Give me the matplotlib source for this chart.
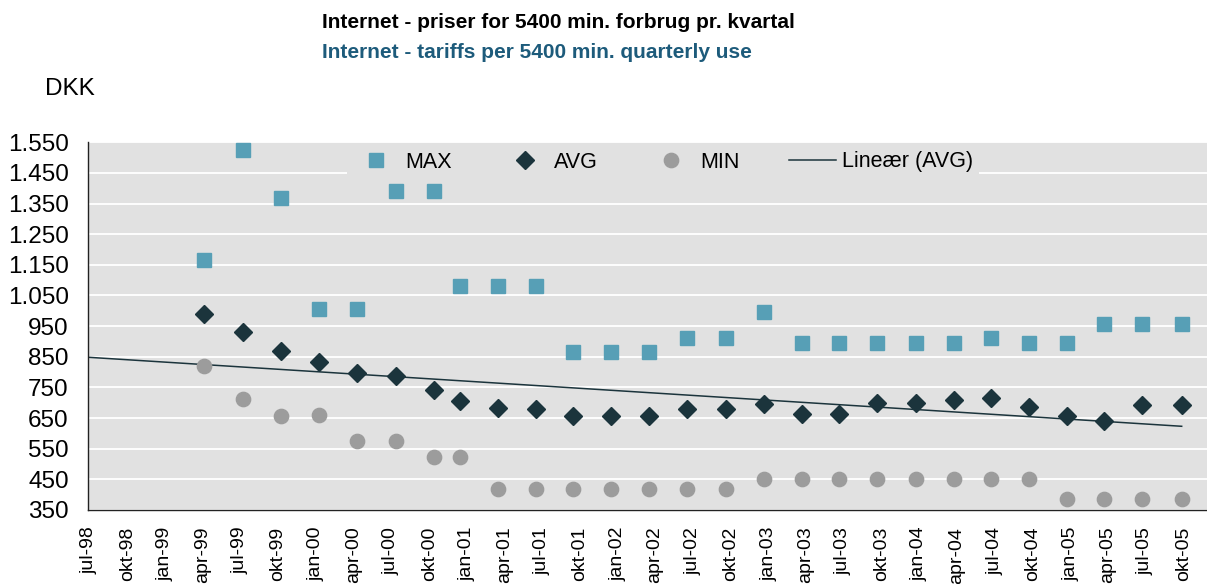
import matplotlib
matplotlib.use('Agg')
import matplotlib.pyplot as plt
import matplotlib.dates as mdates
from matplotlib.lines import Line2D
from matplotlib.ticker import FuncFormatter
import numpy as np
from datetime import datetime

plt.rcParams['font.family'] = ['Liberation Sans', 'DejaVu Sans']

# ---- data ----
tick_labels = ['jul-98', 'okt-98', 'jan-99', 'apr-99', 'jul-99', 'okt-99',
               'jan-00', 'apr-00', 'jul-00', 'okt-00', 'jan-01', 'apr-01',
               'jul-01', 'okt-01', 'jan-02', 'apr-02', 'jul-02', 'okt-02',
               'jan-03', 'apr-03', 'jul-03', 'okt-03', 'jan-04', 'apr-04',
               'jul-04', 'okt-04', 'jan-05', 'apr-05', 'jul-05', 'okt-05']
tick_dates = ['1998-07-01', '1998-10-01', '1999-01-01', '1999-04-01', '1999-07-01', '1999-10-01',
              '2000-01-01', '2000-04-01', '2000-07-01', '2000-10-01', '2001-01-01', '2001-04-01',
              '2001-07-01', '2001-10-01', '2002-01-01', '2002-04-01', '2002-07-01', '2002-10-01',
              '2003-01-01', '2003-04-01', '2003-07-01', '2003-10-01', '2004-01-01', '2004-04-01',
              '2004-07-01', '2004-10-01', '2005-01-01', '2005-04-01', '2005-07-01', '2005-10-01']

point_dates = ['1999-04-05', '1999-07-09', '1999-10-08', '2000-01-09', '2000-04-09',
               '2000-07-13', '2000-10-13', '2000-12-14', '2001-03-16', '2001-06-16',
               '2001-09-15', '2001-12-15', '2002-03-17', '2002-06-17', '2002-09-20',
               '2002-12-20', '2003-03-22', '2003-06-20', '2003-09-20', '2003-12-23',
               '2004-03-24', '2004-06-23', '2004-09-23', '2004-12-23', '2005-03-24',
               '2005-06-24', '2005-09-27']

max_vals = [1166, 1525, 1369, 1005, 1005, 1390, 1390, 1082, 1082, 1082,
            865, 865, 865, 910, 910, 995, 895, 895, 895, 895,
            895, 910, 895, 895, 957, 957, 957]
avg_vals = [990, 932, 870, 834, 798, 787, 742, 704, 682, 679,
            657, 657, 657, 679, 679, 695, 662, 662, 698, 698,
            709, 714, 687, 657, 641, 693, 693]
min_vals = [821, 711, 658, 660, 575, 575, 524, 524, 419, 419,
            419, 419, 419, 419, 419, 450, 450, 450, 450, 450,
            450, 450, 450, 385, 385, 385, 385]

series_names = ['MAX', 'AVG', 'MIN', 'Lineær (AVG)']
title_da = 'Internet - priser for 5400 min. forbrug pr. kvartal'
title_en = 'Internet - tariffs per 5400 min. quarterly use'
unit_label = 'DKK'

# ---- styles ----
C_MAX = '#579fb6'
C_AVG = '#1b343c'
C_MIN = '#9c9c9c'
C_BG = '#e1e1e1'

W, H = 1207, 584
fig = plt.figure(figsize=(W / 100, H / 100), dpi=100)
ax = fig.add_axes([88.3 / W, 1 - 510 / H, 1 - 88.3 / W, (510 - 142.2) / H])
ax.set_facecolor(C_BG)

def d(s):
    return datetime.strptime(s, '%Y-%m-%d')

px = mdates.date2num([d(s) for s in point_dates])
tx = mdates.date2num([d(s) for s in tick_dates])

ax.plot(px, max_vals, linestyle='none', marker='s', ms=10.5, color=C_MAX, zorder=3)
ax.plot(px, avg_vals, linestyle='none', marker='D', ms=9.3, color=C_AVG, zorder=3)
ax.plot(px, min_vals, linestyle='none', marker='o', ms=10.3, color=C_MIN, zorder=3)

coef = np.polyfit(px, avg_vals, 1)
trend_x = np.array([tx[0], px[-1]])
ax.plot(trend_x, np.polyval(coef, trend_x), color=C_AVG, lw=1.1, zorder=2)

# axes
x_left = tx[0] - 2.4
x_right = tx[0] + (W - 89.3) / 0.413
ax.set_xlim(x_left, x_right)
ax.set_ylim(350, 1550)
ax.set_yticks(np.arange(350, 1551, 100))
ax.yaxis.set_major_formatter(FuncFormatter(lambda v, p: f'{int(v):,}'.replace(',', '.')))
ax.set_xticks(tx)
ax.set_xticklabels(tick_labels, rotation=90)
ax.tick_params(axis='y', length=0, pad=14, labelsize=17.5)
ax.tick_params(axis='x', length=0, pad=12, labelsize=14)
ax.grid(axis='y', color='white', lw=1.3, zorder=1)
ax.set_axisbelow(True)
for s in ['top', 'right']:
    ax.spines[s].set_visible(False)
for s in ['left', 'bottom']:
    ax.spines[s].set_color('#222222')
    ax.spines[s].set_linewidth(1.0)

# legend
handles = [
    Line2D([], [], linestyle='none', marker='s', ms=10.5, color=C_MAX),
    Line2D([], [], linestyle='none', marker='D', ms=9.3, color=C_AVG),
    Line2D([], [], linestyle='none', marker='o', ms=10.3, color=C_MIN),
    Line2D([], [], color=C_AVG, lw=1.1),
]
fs_leg = 15.5
leg = fig.legend(handles, series_names, ncol=4, loc='center left',
                 bbox_to_anchor=(347 / W, 1 - 162 / H), bbox_transform=fig.transFigure,
                 fontsize=fs_leg, frameon=True, fancybox=False, borderpad=0.3,
                 borderaxespad=0, handlelength=2.14, handletextpad=0.28,
                 columnspacing=2.32)
leg.get_frame().set_facecolor(C_BG)
leg.get_frame().set_edgecolor('none')
leg.get_frame().set_alpha(1)

# titles
fig.text(321.7 / W, 1 - 22 / H, title_da, fontsize=15, fontweight='bold',
         color='black', ha='left', va='center')
fig.text(321.7 / W, 1 - 52 / H, title_en, fontsize=15, fontweight='bold',
         color='#1d5b7b', ha='left', va='center')
fig.text(45 / W, 1 - 89 / H, unit_label, fontsize=17.5, color='black',
         ha='left', va='center')

fig.savefig('out.png', dpi=100)
